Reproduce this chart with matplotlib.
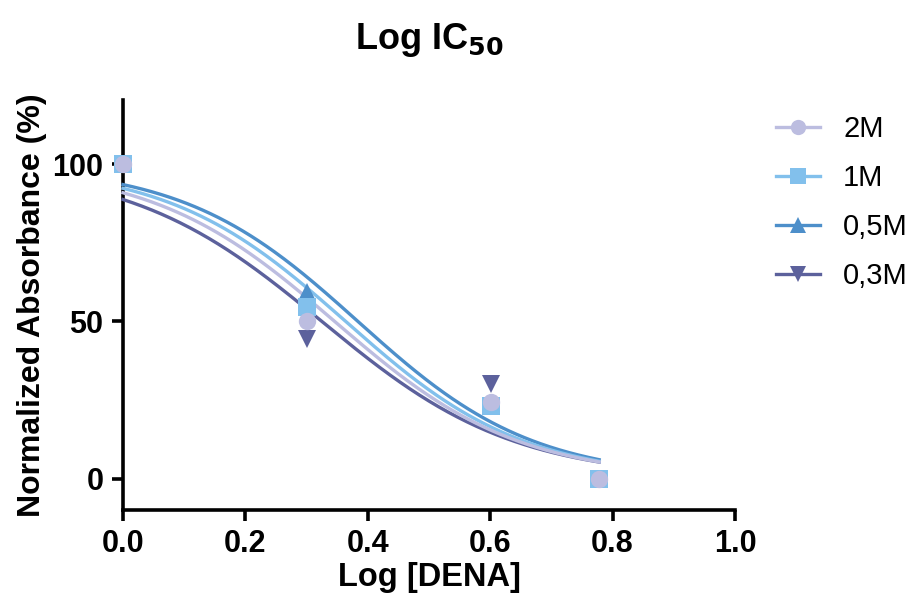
import numpy as np
import matplotlib
matplotlib.use("Agg")
import matplotlib.pyplot as plt
from matplotlib.lines import Line2D

plt.rcParams['font.family'] = ['Liberation Sans', 'DejaVu Sans']

# ---- data ----
log_dena = [0.0, 0.301, 0.602, 0.778]
series_names = ['2M', '1M', '0,5M', '0,3M']
y_2M = [100, 50, 24.5, 0]
y_1M = [100, 54.5, 23, 0]
y_05M = [100, 59.5, 23.5, 0]
y_03M = [100, 44.5, 30, 0]
# fitted curve parameters (normalized response, variable slope): logIC50, Hill slope
log_ic50 = [0.346, 0.364, 0.384, 0.325]
hill = [2.90, 2.98, 3.03, 2.77]

colors = ['#bcbde0', '#82c0ec', '#4d8fca', '#5c619c']
markers = ['o', 's', '^', 'v']
values = [y_2M, y_1M, y_05M, y_03M]

fig = plt.figure(figsize=(9.19, 6.07), dpi=100)
ax = fig.add_axes([123/919, 97/607, 612/919, 410/607])

xs = np.linspace(min(log_dena), max(log_dena), 300)
draw_order = [3, 2, 1, 0]
for z, i in enumerate(draw_order):
    yc = 100.0 / (1.0 + 10 ** ((xs - log_ic50[i]) * hill[i]))
    ax.plot(xs, yc, color=colors[i], lw=2.4, zorder=3 + z, clip_on=False)
for z, i in enumerate(draw_order):
    ax.plot(log_dena, values[i], linestyle='none', marker=markers[i],
            markersize=12.5, color=colors[i], markeredgewidth=0,
            zorder=10 + z, clip_on=False)

ax.set_xlim(0, 1.0)
ax.set_ylim(-10, 120.5)
ax.set_xticks([0.0, 0.2, 0.4, 0.6, 0.8, 1.0])
ax.set_xticklabels(['0.0', '0.2', '0.4', '0.6', '0.8', '1.0'])
ax.set_yticks([0, 50, 100])
for s in ['top', 'right']:
    ax.spines[s].set_visible(False)
for s in ['left', 'bottom']:
    ax.spines[s].set_linewidth(2.6)
ax.tick_params(axis='both', width=2.6, length=8, labelsize=22, pad=6)
for lab in ax.get_xticklabels() + ax.get_yticklabels():
    lab.set_fontweight('bold')

ax.set_xlabel('Log [DENA]', fontsize=23.5, fontweight='bold', labelpad=2)
ax.set_ylabel('Normalized Absorbance (%)', fontsize=23, fontweight='bold', labelpad=4)
fig.text(429/919, 1 - 40/607, r'Log IC$_{\mathbf{50}}$', fontsize=26, fontweight='bold',
         ha='center', va='center')

handles = [Line2D([0], [0], color=colors[i], lw=2.4, marker=markers[i],
                  markersize=11, markeredgewidth=0) for i in range(4)]
fig.legend(handles, series_names, loc='upper left',
           bbox_to_anchor=(776/919, 1 - 115/607), frameon=False,
           fontsize=21, handlelength=1.5, handletextpad=0.8, labelspacing=0.72,
           borderaxespad=0, borderpad=0)

fig.savefig('out.png', dpi=100)
